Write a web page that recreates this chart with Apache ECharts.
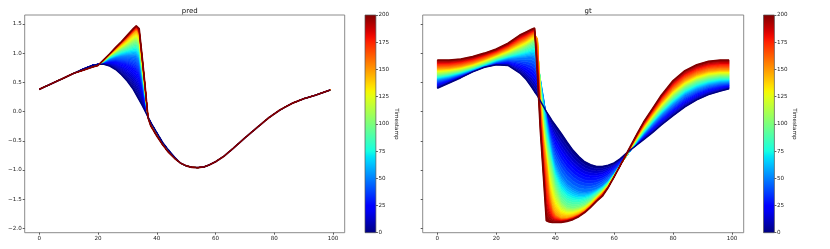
<!DOCTYPE html>
<html><head><meta charset="utf-8">
<script src="https://cdn.jsdelivr.net/npm/echarts@6/dist/echarts.min.js"></script>
<style>html,body{margin:0;padding:0;background:#fff}#c{width:830px;height:249px}</style>
</head><body><div id="c"></div>
<script>
// ---------- tick labels ----------
const xTicks = [0, 20, 40, 60, 80, 100];
const yTicks = [-2, -1.5, -1, -0.5, 0, 0.5, 1, 1.5];
const cbTicks = [0, 25, 50, 75, 100, 125, 150, 175, 200];
const titles = ['pred', 'gt'];
const cbName = 'Timestamp';

// ---------- pred panel: curves at selected timestamps ----------
const predTimes = [0, 25, 50, 100, 150, 200];
const predX    = [0,3,6,9,12,15,18,20,22,24,26,28,30,32,33,34,35,36,37,38,40,42,44,46,48,50,52,54,56,58,60,63,66,70,74,78,82,86,90,94,99];
const predT0   = [0.38,0.45,0.52,0.59,0.66,0.73,0.79,0.81,0.81,0.78,0.72,0.63,0.52,0.38,0.29,0.20,0.11,0.01,-0.09,-0.19,-0.36,-0.53,-0.66,-0.78,-0.88,-0.93,-0.955,-0.96,-0.95,-0.91,-0.86,-0.76,-0.63,-0.45,-0.28,-0.11,0.03,0.14,0.22,0.28,0.37];
const predT25  = [0.38,0.45,0.52,0.59,0.66,0.73,0.79,0.81,0.84,0.85,0.85,0.82,0.79,0.73,0.69,0.61,0.40,0.16,-0.09,-0.20,-0.37,-0.54,-0.67,-0.79,-0.88,-0.93,-0.955,-0.96,-0.95,-0.91,-0.86,-0.76,-0.63,-0.45,-0.28,-0.11,0.03,0.14,0.22,0.28,0.37];
const predT50  = [0.38,0.45,0.52,0.59,0.66,0.72,0.78,0.80,0.85,0.90,0.93,0.95,0.96,0.96,0.95,0.88,0.58,0.26,-0.09,-0.21,-0.38,-0.55,-0.68,-0.79,-0.88,-0.93,-0.955,-0.96,-0.95,-0.91,-0.86,-0.76,-0.63,-0.45,-0.28,-0.11,0.03,0.14,0.22,0.28,0.37];
const predT100 = [0.38,0.45,0.52,0.59,0.66,0.72,0.77,0.80,0.87,0.95,1.01,1.07,1.12,1.18,1.20,1.14,0.76,0.35,-0.09,-0.22,-0.40,-0.56,-0.69,-0.80,-0.88,-0.93,-0.955,-0.96,-0.95,-0.91,-0.86,-0.76,-0.63,-0.45,-0.28,-0.11,0.03,0.14,0.22,0.28,0.37];
const predT150 = [0.38,0.45,0.52,0.59,0.66,0.71,0.77,0.79,0.88,0.98,1.07,1.16,1.25,1.35,1.39,1.33,0.89,0.42,-0.09,-0.24,-0.41,-0.57,-0.70,-0.80,-0.88,-0.93,-0.955,-0.96,-0.95,-0.91,-0.86,-0.76,-0.63,-0.45,-0.28,-0.11,0.03,0.14,0.22,0.28,0.37];
const predT200 = [0.38,0.45,0.52,0.59,0.66,0.71,0.76,0.79,0.89,0.99,1.10,1.20,1.31,1.42,1.47,1.42,0.95,0.45,-0.10,-0.25,-0.42,-0.57,-0.70,-0.80,-0.88,-0.93,-0.955,-0.96,-0.95,-0.91,-0.86,-0.76,-0.63,-0.45,-0.28,-0.11,0.03,0.14,0.22,0.28,0.37];

// ---------- gt panel ----------
const gtTimes = [0, 50, 100, 150, 200];
const gtX    = [0,4,8,12,16,20,24,28,30,32,33,34,35,36,37,38,39,40,42,44,46,48,50,52,54,56,58,60,62,64,66,68,70,73,76,80,84,88,92,96,99];
const gtT0   = [0.40,0.49,0.58,0.68,0.76,0.80,0.79,0.66,0.56,0.42,0.34,0.27,0.18,0.09,0.00,-0.08,-0.16,-0.23,-0.37,-0.52,-0.66,-0.77,-0.86,-0.91,-0.94,-0.94,-0.92,-0.88,-0.81,-0.72,-0.64,-0.56,-0.48,-0.36,-0.23,-0.07,0.08,0.20,0.29,0.35,0.39];
const gtT50  = [0.54,0.58,0.64,0.71,0.78,0.85,0.90,0.92,0.93,0.94,0.92,0.80,0.55,0.25,-0.10,-0.42,-0.68,-0.88,-1.10,-1.24,-1.32,-1.37,-1.38,-1.37,-1.33,-1.27,-1.18,-1.06,-0.92,-0.78,-0.64,-0.51,-0.39,-0.22,-0.06,0.12,0.28,0.38,0.45,0.49,0.50];
const gtT100 = [0.63,0.66,0.70,0.76,0.83,0.91,0.98,1.06,1.11,1.17,1.20,1.12,0.45,-0.15,-0.55,-0.82,-1.05,-1.30,-1.55,-1.64,-1.66,-1.64,-1.60,-1.53,-1.44,-1.35,-1.24,-1.09,-0.93,-0.77,-0.61,-0.46,-0.32,-0.13,0.05,0.26,0.42,0.52,0.58,0.61,0.61];
const gtT150 = [0.74,0.75,0.78,0.83,0.90,0.98,1.07,1.18,1.23,1.30,1.33,1.25,0.10,-0.50,-0.90,-1.40,-1.65,-1.76,-1.83,-1.83,-1.80,-1.76,-1.70,-1.61,-1.50,-1.40,-1.28,-1.11,-0.93,-0.76,-0.58,-0.41,-0.25,-0.04,0.16,0.38,0.54,0.64,0.70,0.72,0.72];
const gtT200 = [0.88,0.88,0.90,0.94,1.00,1.07,1.17,1.31,1.36,1.41,1.43,0.60,-0.35,-1.10,-1.87,-1.89,-1.90,-1.90,-1.90,-1.88,-1.85,-1.80,-1.73,-1.64,-1.54,-1.45,-1.30,-1.12,-0.93,-0.74,-0.55,-0.36,-0.18,0.05,0.28,0.53,0.70,0.80,0.86,0.88,0.88];

const predCurves = [predT0, predT25, predT50, predT100, predT150, predT200];
const gtCurves = [gtT0, gtT50, gtT100, gtT150, gtT200];

// ---------- jet colormap (matplotlib) ----------
const JET = {
  r: [[0,0],[0.35,0],[0.66,1],[0.89,1],[1,0.5]],
  g: [[0,0],[0.125,0],[0.375,1],[0.64,1],[0.91,0],[1,0]],
  b: [[0,0.5],[0.11,1],[0.34,1],[0.65,0],[1,0]]
};
function seg(p, v){
  for (let i=0;i<p.length-1;i++){
    if (v<=p[i+1][0]){ const f=(v-p[i][0])/(p[i+1][0]-p[i][0]); return p[i][1]+f*(p[i+1][1]-p[i][1]); }
  }
  return p[p.length-1][1];
}
function jet(t){
  const v=Math.max(0,Math.min(1,t/200));
  const c=[seg(JET.r,v),seg(JET.g,v),seg(JET.b,v)].map(x=>Math.round(x*255));
  return 'rgb('+c.join(',')+')';
}

// band between two read curves, shaded in colour steps (a gradient fill)
const STEPS = 10;
function bandRenderer(X, curves, times){
  return function(params, api){
    const k = params.dataIndex;
    const A = curves[k], B = curves[k+1], ta = times[k], tb = times[k+1];
    const children = [];
    for (let m=0;m<STEPS;m++){
      const f0=m/STEPS, f1=(m+1)/STEPS;
      const pts=[];
      for (let j=0;j<X.length;j++) pts.push(api.coord([X[j], A[j]+(B[j]-A[j])*f0]));
      for (let j=X.length-1;j>=0;j--) pts.push(api.coord([X[j], A[j]+(B[j]-A[j])*f1]));
      const c=jet(ta+(tb-ta)*(m+0.5)/STEPS);
      children.push({type:'polygon',shape:{points:pts},style:{fill:c,stroke:c,lineWidth:0.6}});
    }
    return {type:'group',children:children};
  };
}

const FONT='DejaVu Sans';
const frame='#7f7f7f';
function mainX(idx){
  return {type:'value',gridIndex:idx,min:-4.95,max:103.95,
    axisLine:{show:false,onZero:false},splitLine:{show:false},
    axisTick:{show:true,length:2,lineStyle:{color:'#333',width:0.8},customValues:xTicks},
    axisLabel:{show:true,fontSize:5.6,fontFamily:FONT,color:'#222',margin:3,customValues:xTicks,formatter:v=>String(v)}};
}
function mainY(idx,labels){
  return {type:'value',gridIndex:idx,min:-2.075,max:1.654,
    axisLine:{show:false,onZero:false},splitLine:{show:false},
    axisTick:{show:true,length:2,lineStyle:{color:'#333',width:0.8},customValues:yTicks},
    axisLabel:{show:labels,fontSize:5.6,fontFamily:FONT,color:'#222',margin:3,customValues:yTicks,
      formatter:v=>v.toFixed(1).replace('-','\u2212')}};
}
function cbX(idx){ return {type:'value',gridIndex:idx,min:0,max:1,show:false}; }
function cbY(idx){
  return {type:'value',gridIndex:idx,min:0,max:200,interval:25,position:'right',
    name:cbName,nameLocation:'middle',nameRotate:-90,nameGap:17,
    nameTextStyle:{fontSize:5.6,fontFamily:FONT,color:'#222'},
    axisLine:{show:false,onZero:false},splitLine:{show:false},
    axisTick:{show:true,length:2,lineStyle:{color:'#333',width:0.8},customValues:cbTicks},
    axisLabel:{fontSize:5.6,fontFamily:FONT,color:'#222',margin:2.5,customValues:cbTicks}};
}
function cbSeries(idx){
  return {type:'custom',xAxisIndex:idx,yAxisIndex:idx,data:[[0]],silent:true,
    renderItem:function(params,api){
      const p0=api.coord([0,0]), p1=api.coord([1,200]);
      const s=[]; for(let k=0;k<=40;k++){ s.push({offset:k/40,color:jet(200-200*k/40)}); }
      return {type:'rect',shape:{x:p0[0],y:p1[1],width:p1[0]-p0[0],height:p0[1]-p1[1]},
        style:{fill:new echarts.graphic.LinearGradient(0,0,0,1,s),stroke:'#555',lineWidth:0.7}};
    }};
}
function lineSeries(idx,X,Y,t,w){
  return {type:'line',xAxisIndex:idx,yAxisIndex:idx,data:X.map((x,i)=>[x,Y[i]]),
    showSymbol:false,symbol:'none',silent:true,lineStyle:{color:jet(t),width:w}};
}

const chart=echarts.init(document.getElementById('c'),null,{renderer:'canvas'});
chart.setOption({
  animation:false,
  backgroundColor:'#fff',
  title:[
    {text:titles[0],left:184.7,top:3,textAlign:'center',textStyle:{fontSize:7,fontWeight:'normal',fontFamily:FONT,color:'#111'}},
    {text:titles[1],left:583.2,top:3,textAlign:'center',textStyle:{fontSize:7,fontWeight:'normal',fontFamily:FONT,color:'#111'}}
  ],
  grid:[
    {left:24.7,top:15,width:320,height:217.7,show:true,borderColor:frame,borderWidth:0.9,backgroundColor:'transparent'},
    {left:422.7,top:15,width:321,height:217.7,show:true,borderColor:frame,borderWidth:0.9,backgroundColor:'transparent'},
    {left:365,top:15,width:10.9,height:217.7},
    {left:763.5,top:15,width:10.9,height:217.7}
  ],
  xAxis:[mainX(0),mainX(1),cbX(2),cbX(3)],
  yAxis:[mainY(0,true),mainY(1,false),cbY(2),cbY(3)],
  series:[
    lineSeries(0,predX,predT0,0,1.5),
    {type:'custom',xAxisIndex:0,yAxisIndex:0,silent:true,data:predTimes.slice(0,-1).map((t,i)=>[i]),
      renderItem:bandRenderer(predX,predCurves,predTimes)},
    lineSeries(0,predX,predT200,200,1.7),
    lineSeries(1,gtX,gtT0,0,1.5),
    {type:'custom',xAxisIndex:1,yAxisIndex:1,silent:true,data:gtTimes.slice(0,-1).map((t,i)=>[i]),
      renderItem:bandRenderer(gtX,gtCurves,gtTimes)},
    lineSeries(1,gtX,gtT200,200,1.7),
    cbSeries(2),cbSeries(3)
  ]
});
</script></body></html>
